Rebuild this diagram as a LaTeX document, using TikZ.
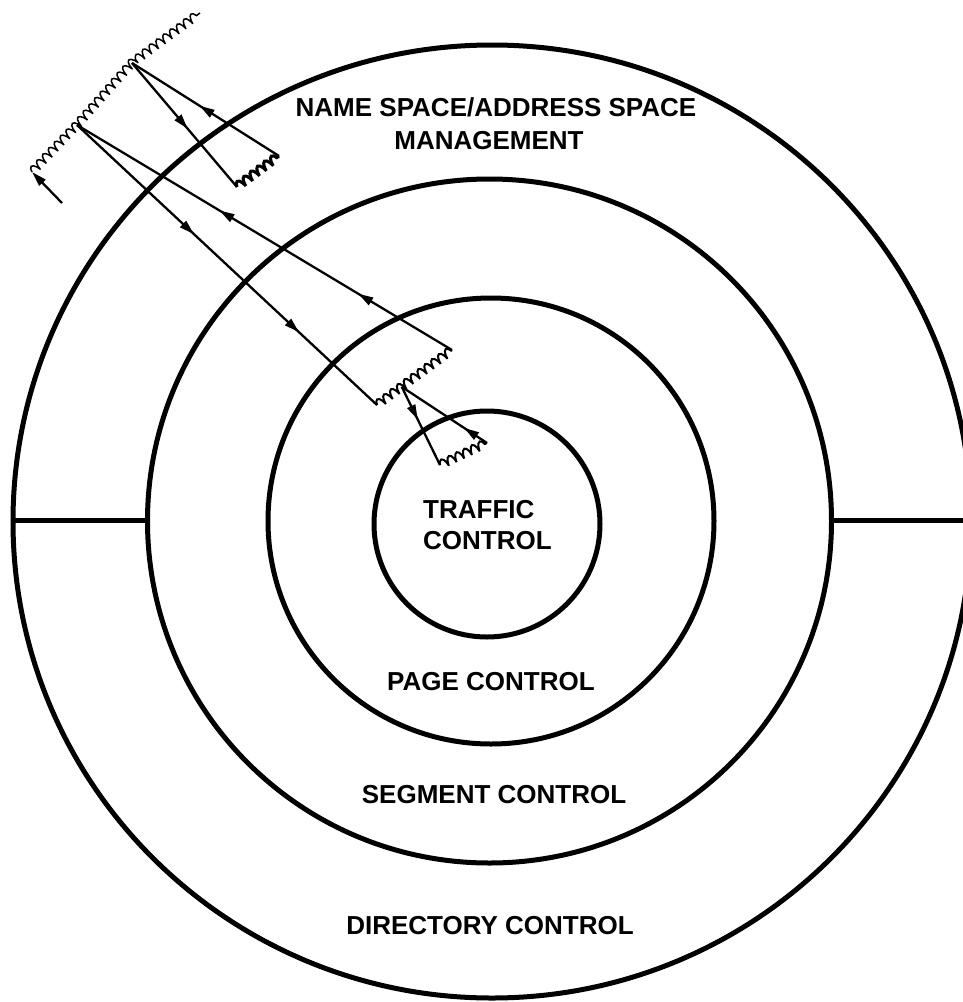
\documentclass[tikz,border=0pt]{standalone}
\usepackage{fontspec}
\setmainfont{Liberation Sans}
\usetikzlibrary{arrows.meta,calc,decorations.pathmorphing,decorations.markings}
\tikzset{
  ring/.style={line width=5pt},
  sep/.style={line width=5pt},
  flow/.style={line width=2.3pt},
  tri/.tip={Triangle[length=15pt,width=8.5pt]},
  arrat/.style={postaction={decorate,decoration={markings,mark=at position #1 with {\arrow{tri}}}}},
  wig/.style={decorate,decoration={coil,aspect=0.3,amplitude=4.5pt,segment length=8.5pt}},
  thinwig/.style={wig,line width=1.5pt},
  boldwig/.style={wig,line width=3pt},
  lbl/.style={font=\fontsize{26}{31}\selectfont\bfseries,inner sep=0pt,align=center}
}
\begin{document}
\begin{tikzpicture}[x=1pt,y=-1pt]
\useasboundingbox (0,0) rectangle (963,1002);
% rings
\draw[ring] (492,521.5) ellipse [x radius=479, y radius=476.5];
\draw[ring] (489.5,521) circle [radius=342];
\draw[ring] (491,521) circle [radius=223];
\draw[ring] (487,524) circle [radius=113];
% separators
\coordinate (sl1) at (13,520);
\coordinate (sl2) at (147,520);
\coordinate (sr1) at (832,520);
\coordinate (sr2) at (963,520);
\draw[sep] (sl1) -- (sl2);
\draw[sep] (sr1) -- (sr2);
% labels
\node[lbl] (nm) at (496,107) {NAME SPACE/ADDRESS SPACE};
\node[lbl] (mg) at (489,141) {MANAGEMENT};
\node[lbl,align=left,anchor=west] (tc) at (423,525) {TRAFFIC\\CONTROL};
\node[lbl] (pc) at (491,682) {PAGE CONTROL};
\node[lbl] (sc) at (494,795) {SEGMENT CONTROL};
\node[lbl] (dc) at (490,926) {DIRECTORY CONTROL};
% wiggle points
\coordinate (W0s) at (32,172);
\coordinate (H1) at (77,125);
\coordinate (H2) at (132,63);
\coordinate (W0e) at (200,13);
\coordinate (W1L) at (237,187);
\coordinate (W1R) at (279,156);
\coordinate (W2L) at (377,405);
\coordinate (W2R) at (452,350);
\coordinate (H3) at ($(W2L)!0.33!(W2R)$);
\coordinate (W3L) at (440,465);
\coordinate (W3R) at (487,443);
\coordinate (S0) at (62,203);
% wiggles
\draw[thinwig] (W0s) -- (H1) -- (H2) -- (W0e);
\draw[boldwig] (W1L) -- (W1R);
\draw[thinwig,line width=2pt] (W2L) -- (W2R);
\draw[thinwig,line width=2pt] (W3L) -- (W3R);
% flows
\draw[flow,-{tri}] (S0) -- (W0s);
\draw[flow,arrat=0.39,arrat=0.74] (H1) -- (W2L);
\draw[flow,arrat=0.25,arrat=0.62] (W2R) -- (H1);
\draw[flow,arrat=0.53] (H2) -- (W1L);
\draw[flow,arrat=0.54] (W1R) -- (H2);
\draw[flow,arrat=0.42] (H3) -- (W3L);
\draw[flow,arrat=0.27] (W3R) -- (H3);
\end{tikzpicture}
\end{document}
